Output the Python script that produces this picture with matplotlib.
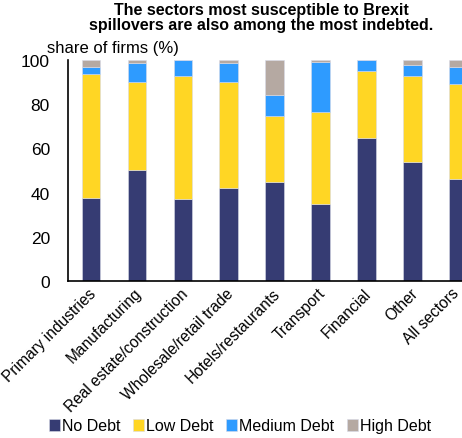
import numpy as np
import matplotlib.pyplot as plt
import matplotlib.transforms as mtransforms

plt.rcParams['font.family'] = ['Liberation Sans', 'DejaVu Sans']

sectors = ["Primary industries", "Manufacturing", "Real estate/construction",
           "Wholesale/retail trade", "Hotels/restaurants", "Transport",
           "Financial", "Other", "All sectors"]
no_debt = [37.6, 50.1, 37.1, 41.9, 44.7, 34.8, 64.6, 53.8, 46.2]
low_debt = [56.2, 40.1, 55.5, 48.1, 30.0, 41.8, 30.3, 38.8, 43.1]
medium_debt = [3.2, 8.4, 7.4, 8.8, 9.6, 22.4, 5.1, 5.3, 7.7]
high_debt = [3.0, 1.4, 0.0, 1.2, 15.7, 1.0, 0.0, 2.1, 3.0]

series = [("No Debt", no_debt, "#363c73"),
          ("Low Debt", low_debt, "#ffd624"),
          ("Medium Debt", medium_debt, "#2e9bff"),
          ("High Debt", high_debt, "#b5a9a2")]

fig = plt.figure(figsize=(4.62, 4.39), dpi=100)
ax = fig.add_axes([68 / 462, 1 - 282 / 439, 400 / 462, 221 / 439])

x = np.arange(len(sectors))
bottom = np.zeros(len(sectors))
for name, vals, col in series:
    ax.bar(x, vals, 0.41, bottom=bottom, color=col, label=name,
           edgecolor="#d8dbe8", linewidth=0.4)
    bottom += np.array(vals)

ax.set_ylim(0, 100)
ax.set_xlim(-0.5, 8.2)
ax.set_yticks(range(0, 101, 20))
ax.tick_params(axis="y", length=0, labelsize=12.5, pad=13)
ax.tick_params(axis="x", length=0, labelsize=11.2, pad=3)
ax.set_xticks(x)
ax.set_xticklabels(sectors, rotation=45, ha="right", rotation_mode="anchor")
# nudge the rotated labels a little to the left so they end at the bar centre
labels = ax.get_xticklabels()
for i, lab in enumerate(labels):
    dx = -3 if i < len(labels) - 1 else -8
    shift = mtransforms.ScaledTranslation(dx / 100, 0, fig.dpi_scale_trans)
    lab.set_transform(lab.get_transform() + shift)
for s in ["top", "right"]:
    ax.spines[s].set_visible(False)
for s in ["left", "bottom"]:
    ax.spines[s].set_linewidth(1.2)

fig.text(47 / 462, 1 - 48 / 439, "share of firms (%)", fontsize=12,
         ha="left", va="center")
fig.text(261 / 462, 1 - 3 / 439,
         "The sectors most susceptible to Brexit\nspillovers are also among the most indebted.",
         fontsize=11.5, fontweight="bold", ha="center", va="top", linespacing=1.0)

fig.legend(loc="center", bbox_to_anchor=(240 / 462, 1 - 427 / 439), ncol=4,
           frameon=False, fontsize=11.5, handlelength=0.7, handleheight=0.7,
           handletextpad=0.1, columnspacing=0.8, borderaxespad=0)

fig.savefig("out.png", dpi=100)
